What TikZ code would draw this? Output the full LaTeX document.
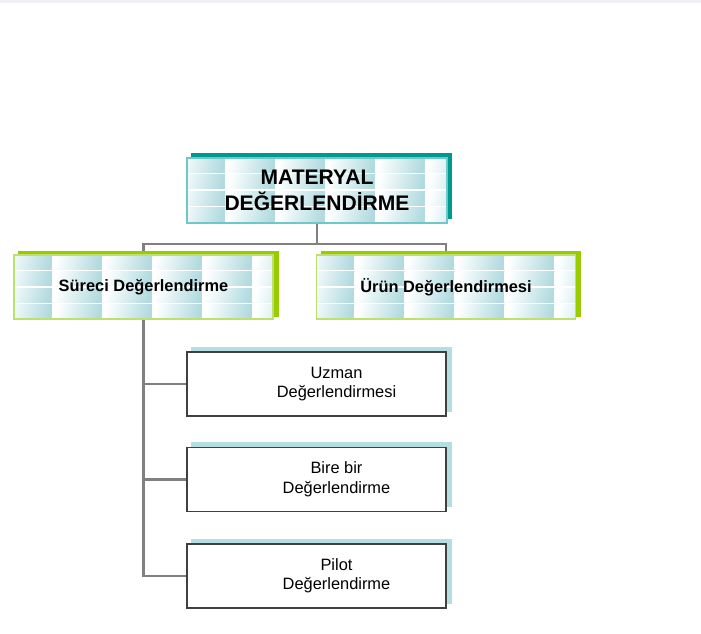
\documentclass[tikz,border=0pt]{standalone}
\usepackage{fontspec}
\setmainfont{Liberation Sans}
\usetikzlibrary{backgrounds}
\definecolor{tileblue}{RGB}{178,219,224}
\definecolor{darkteal}{RGB}{0,153,143}
\definecolor{lightteal}{RGB}{110,200,200}
\definecolor{leafgreen}{RGB}{153,204,0}
\definecolor{palegreen}{RGB}{190,225,110}
\definecolor{childshade}{RGB}{180,222,226}
\definecolor{stripgray}{RGB}{240,240,244}
\definecolor{conngray}{RGB}{128,128,128}
\newcommand{\childtext}[2]{\hspace{30pt}\begin{tabular}{@{}c@{}}#1\\#2\end{tabular}}

\begin{document}
\begin{tikzpicture}
          [x = 0.75pt, y = -0.75pt,
           tiles/.style = {fill = white, path picture = {
             \foreach \tcol in {0,...,5}
               \foreach \trow in {-1,...,3}
                 \shade[draw = none, left color = white, right color = tileblue, shading angle = 75]
                   ([xshift = \tcol*37.5pt - 9pt, yshift = -\trow*12.4pt]path picture bounding box.north west)
                   rectangle ++(37.5pt, -10.6pt);}},
           headbox/.style = {tiles, draw = lightteal, line width = 0.8pt,
             minimum width = 195pt, minimum height = 48.75pt, align = center,
             font = \fontsize{15.8}{19.5}\selectfont\bfseries},
           midbox/.style = {tiles, draw = palegreen, line width = 0.8pt,
             minimum width = 194.25pt, minimum height = 48pt,
             font = \fontsize{12.3}{14.6}\selectfont\bfseries},
           childbox/.style = {fill = white, draw = black!75, line width = 0.8pt,
             minimum width = 194.25pt, minimum height = 48pt,
             font = \fontsize{12.3}{14.6}\selectfont},
           conn/.style = {draw = conngray, line width = 2.2pt}]
          \useasboundingbox (0,0) rectangle (701,634);
          \fill[stripgray] (0,0) rectangle (701,3);
          % boxes
          \node[headbox] (mat) at (317,190.5) {MATERYAL\\DEĞERLENDİRME};
          \node[midbox] (sur) at (143.5,287) {Süreci Değerlendirme};
          \node[midbox] (urun) at (446,287) {Ürün Değerlendirmesi};
          \node[childbox] (uzman) at (316.5,384) {\childtext{Uzman}{Değerlendirmesi}};
          \node[childbox] (bire) at (316.5,479.5) {\childtext{Bire bir}{Değerlendirme}};
          \node[childbox] (pilot) at (316.5,576) {\childtext{Pilot}{Değerlendirme}};
          \coordinate (bar) at (317,244);
          \begin{scope}[on background layer]
            % connectors
            \draw[conn] (mat.south) -- (bar);
            \draw[conn] (sur.north) |- (bar) -| (urun.north);
            \draw[conn] (sur.south) -- (sur.south |- pilot.west) -- (pilot.west);
            \draw[conn] (sur.south |- uzman.west) -- (uzman.west);
            \draw[conn] (sur.south |- bire.west) -- (bire.west);
            % offset shadows
            \foreach \n/\shcol/\dx/\dy in {mat/darkteal/3.5/3.5, sur/leafgreen/3.75/2.25,
                urun/leafgreen/3.75/2.25, uzman/childshade/3.75/3.5,
                bire/childshade/3.75/3.5, pilot/childshade/3.75/3.5}
              \fill[\shcol] ([shift = {(\dx pt,\dy pt)}]\n.south west)
                rectangle ([shift = {(\dx pt,\dy pt)}]\n.north east);
          \end{scope}
        \end{tikzpicture}
\end{document}
